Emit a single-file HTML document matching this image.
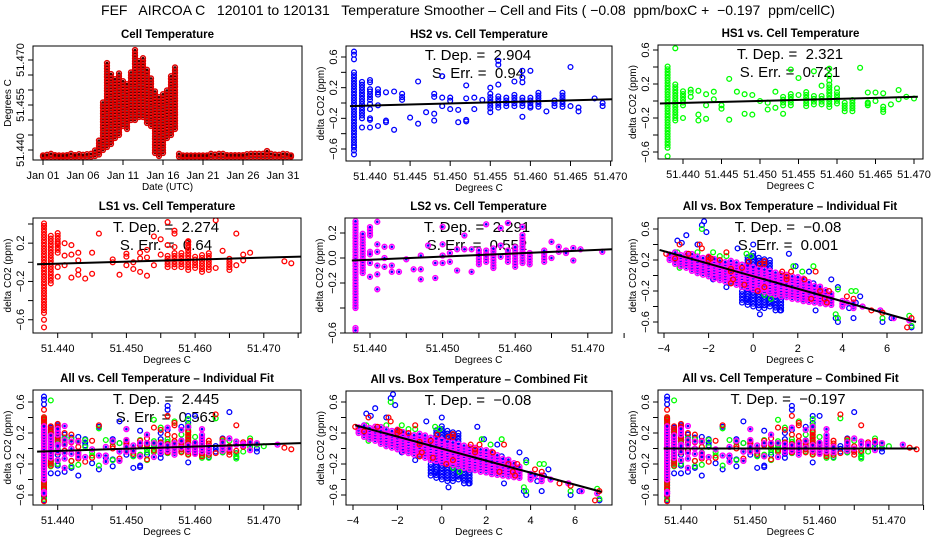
<!DOCTYPE html>
<html><head><meta charset="utf-8"><style>
html,body{margin:0;padding:0;background:#fff;}
svg{display:block;font-family:"Liberation Sans",sans-serif;}
</style></head><body>
<svg id="chart" width="936" height="540" viewBox="0 0 936 540" xmlns="http://www.w3.org/2000/svg">
<rect x="0" y="0" width="936" height="540" fill="#fff"/>
<text x="468" y="15" font-size="14" text-anchor="middle" style="white-space:pre">FEF   AIRCOA C   120101 to 120131   Temperature Smoother – Cell and Fits ( −0.08  ppm/boxC +  −0.197  ppm/cellC)</text>
</svg>
<script>
// ---------- DATA ----------
const cellDays=[1,1.5,2,2.5,3,3.5,4,4.5,5,5.5,6,6.5,7,7.5,8,8.5,9,9.5,10,10.5,11,11.5,12,12.5,13,13.5,14,14.5,15,15.5,16,16.5,17,17.5,18,18.5,19,19.5,20,20.5,21,21.5,22,22.5,23,23.5,24,24.5,25,25.5,26,26.5,27,27.5,28,28.5,29,29.5,30,30.5,31,31.5,32];
const cellLo=[51.4378,51.4378,51.4378,51.4378,51.4378,51.4378,51.4378,51.4378,51.4378,51.4378,51.4378,51.4378,51.4378,51.4380,51.4385,51.4400,51.4410,51.4420,51.4440,51.4450,51.4480,51.4470,51.4500,51.4500,51.4510,51.4510,51.4490,51.4480,51.4390,51.4380,51.4390,51.4440,51.4450,51.4470,51.4378,51.4378,51.4378,51.4378,51.4378,51.4378,51.4378,51.4378,51.4378,51.4378,51.4378,51.4378,51.4378,51.4378,51.4378,51.4378,51.4378,51.4378,51.4378,51.4378,51.4378,51.4378,51.4378,51.4378,51.4378,51.4378,51.4378,51.4378,51.4378];
const cellHi=[51.4382,51.4384,51.4388,51.4383,51.4382,51.4382,51.4383,51.4395,51.4383,51.4386,51.4384,51.4386,51.4388,51.4405,51.4440,51.4560,51.4690,51.4660,51.4640,51.4660,51.4630,51.4620,51.4660,51.4735,51.4700,51.4710,51.4670,51.4640,51.4600,51.4580,51.4590,51.4600,51.4650,51.4680,51.4390,51.4382,51.4382,51.4382,51.4382,51.4382,51.4382,51.4382,51.4392,51.4385,51.4395,51.4388,51.4383,51.4383,51.4383,51.4383,51.4383,51.4386,51.4388,51.4392,51.4395,51.4392,51.4400,51.4390,51.4385,51.4384,51.4393,51.4386,51.4382];

const hs2Cols=[[51.438,-0.55,0.42],[51.439,-0.2,0.3],[51.440,0.04,0.15],[51.444,0.04,0.1],[51.455,-0.07,0.1],[51.456,-0.06,0.1],[51.457,-0.04,0.1],[51.458,-0.04,0.12],[51.459,-0.04,0.1],[51.460,-0.04,0.08],[51.461,-0.05,0.15],[51.463,-0.04,0.05],[51.464,-0.05,0.16]];
const hs2Pts=[[51.438,0.67],[51.438,0.63],[51.438,0.57],[51.438,-0.58],[51.438,-0.62],[51.438,-0.67],[51.439,-0.32],[51.440,0.3],[51.440,0.27],[51.440,0.18],[51.440,-0.01],[51.440,-0.08],[51.440,-0.2],[51.440,-0.22],[51.440,-0.32],[51.441,0.18],[51.441,0.14],[51.441,0.11],[51.441,-0.03],[51.441,-0.3],[51.442,0.14],[51.442,-0.23],[51.442,-0.25],[51.443,0.15],[51.443,-0.35],[51.444,0.12],[51.445,-0.19],[51.446,0.28],[51.446,-0.27],[51.447,-0.12],[51.448,0.12],[51.448,0.08],[51.448,-0.14],[51.448,-0.23],[51.449,0.35],[51.449,0.07],[51.449,-0.04],[51.450,0.07],[51.450,0.03],[51.450,-0.08],[51.451,-0.09],[51.451,-0.25],[51.452,0.23],[51.452,0.06],[51.452,-0.22],[51.452,-0.24],[51.453,0.07],[51.453,-0.08],[51.454,0.04],[51.455,0.2],[51.455,0.12],[51.455,-0.12],[51.456,0.55],[51.456,0.5],[51.456,0.24],[51.458,0.28],[51.459,0.42],[51.459,0.33],[51.459,0.27],[51.459,-0.18],[51.460,0.42],[51.460,-0.06],[51.462,-0.11],[51.465,0.47],[51.465,-0.04],[51.466,-0.06],[51.466,-0.11],[51.468,0.06],[51.469,0.0],[51.469,-0.04]];
const hs1Cols=[[51.438,-0.55,0.42],[51.439,-0.2,0.22],[51.440,-0.05,0.14],[51.441,0.1,0.15],[51.453,-0.05,0.06],[51.454,-0.05,0.1],[51.456,-0.06,0.13],[51.457,-0.04,0.06],[51.458,-0.04,0.06],[51.459,-0.07,0.2],[51.460,-0.03,0.11],[51.461,-0.12,0.0],[51.462,-0.12,0.03],[51.464,-0.05,0.0],[51.466,-0.1,-0.06]];
const hs1Pts=[[51.438,-0.65],[51.439,0.62],[51.439,-0.23],[51.440,-0.2],[51.441,0.05],[51.442,0.12],[51.442,-0.16],[51.442,-0.23],[51.443,0.08],[51.443,-0.05],[51.443,-0.21],[51.444,0.11],[51.444,0.02],[51.445,-0.05],[51.445,-0.09],[51.446,0.26],[51.446,-0.22],[51.447,0.11],[51.448,0.08],[51.448,-0.15],[51.449,0.07],[51.449,-0.16],[51.450,0.0],[51.451,-0.02],[51.451,-0.1],[51.452,0.11],[51.452,-0.08],[51.453,-0.15],[51.454,0.37],[51.455,0.27],[51.455,0.07],[51.457,0.35],[51.458,0.18],[51.459,0.38],[51.459,0.3],[51.459,0.24],[51.460,0.15],[51.463,0.39],[51.464,0.1],[51.464,-0.03],[51.465,0.1],[51.465,0.0],[51.466,0.09],[51.466,-0.13],[51.467,-0.04],[51.468,0.13],[51.468,0.02],[51.469,0.05],[51.470,0.03]];
const ls1Cols=[[51.438,-0.5,0.42],[51.439,-0.22,0.3],[51.440,0.1,0.32],[51.456,-0.05,0.08],[51.457,-0.05,0.1],[51.458,-0.05,0.12],[51.459,-0.08,0.22],[51.460,-0.06,0.06],[51.461,-0.1,0.1],[51.462,-0.08,0.12],[51.465,-0.08,0.05]];
const ls1Pts=[[51.438,0.5],[51.438,0.38],[51.438,-0.53],[51.438,-0.6],[51.438,-0.68],[51.440,0.2],[51.440,-0.05],[51.440,-0.15],[51.441,0.2],[51.441,0.07],[51.441,-0.03],[51.442,0.18],[51.442,0.08],[51.442,-0.16],[51.443,0.1],[51.443,0.02],[51.443,-0.08],[51.443,-0.13],[51.444,-0.17],[51.445,0.1],[51.445,-0.12],[51.446,0.3],[51.448,0.03],[51.448,0.0],[51.449,-0.13],[51.450,0.09],[51.450,0.06],[51.450,-0.03],[51.451,0.0],[51.451,-0.07],[51.452,0.1],[51.452,0.04],[51.452,-0.1],[51.453,0.13],[51.453,0.05],[51.453,-0.14],[51.454,0.27],[51.454,-0.03],[51.455,0.24],[51.455,0.08],[51.456,0.42],[51.456,0.18],[51.457,0.33],[51.457,0.3],[51.457,0.16],[51.459,0.22],[51.463,0.44],[51.463,-0.06],[51.464,0.12],[51.466,0.3],[51.466,-0.03],[51.467,0.08],[51.467,0.02],[51.468,0.1],[51.473,0.01],[51.474,-0.01]];
const ls2Cols=[[51.438,-0.4,0.3],[51.439,-0.12,0.2],[51.440,0.18,0.26],[51.455,-0.05,0.07],[51.456,-0.03,0.07],[51.457,-0.08,0.08],[51.459,-0.03,0.06],[51.460,-0.07,0.1],[51.461,-0.04,0.2],[51.462,-0.05,0.04],[51.464,-0.03,0.08]];
const ls2Pts=[[51.438,-0.56],[51.438,-0.58],[51.440,0.05],[51.440,0.03],[51.440,-0.04],[51.440,-0.15],[51.441,0.29],[51.441,0.11],[51.441,0.05],[51.441,-0.06],[51.441,-0.13],[51.441,-0.25],[51.442,0.09],[51.442,0.0],[51.442,-0.07],[51.443,0.09],[51.443,-0.06],[51.443,-0.11],[51.444,-0.11],[51.445,-0.01],[51.446,-0.09],[51.447,0.02],[51.447,-0.09],[51.447,-0.17],[51.448,0.1],[51.449,-0.04],[51.449,-0.16],[51.450,0.25],[51.450,0.11],[51.450,0.02],[51.450,-0.04],[51.451,0.04],[51.451,-0.03],[51.452,0.07],[51.452,-0.1],[51.453,0.18],[51.453,0.07],[51.454,0.07],[51.454,-0.11],[51.456,0.27],[51.458,0.24],[51.458,0.1],[51.458,0.01],[51.459,0.28],[51.461,0.25],[51.465,0.13],[51.465,0.0],[51.466,0.09],[51.466,0.05],[51.467,0.06],[51.467,0.04],[51.468,0.08],[51.468,-0.02],[51.469,0.07],[51.472,0.05]];

const boxMagCols=[[-3.75,0.2,0.3],[-3.5,0.15,0.3],[-3.25,0.12,0.3],[-3.0,0.1,0.29],[-2.75,0.06,0.28],[-2.5,0.03,0.27],[-2.25,0.01,0.26],[-2.0,-0.01,0.25],[-1.75,-0.04,0.23],[-1.5,-0.06,0.22],[-1.25,-0.08,0.2],[-1.0,-0.1,0.19],[-0.75,-0.12,0.18],[-0.5,-0.15,0.16],[-0.25,-0.16,0.15],[0,-0.18,0.13],[0.25,-0.2,0.12],[0.5,-0.21,0.1],[0.75,-0.23,0.09],[1.0,-0.25,0.07],[1.25,-0.27,0.05],[1.5,-0.28,0.03],[1.75,-0.3,0.0],[2.0,-0.31,-0.02],[2.25,-0.33,-0.04],[2.5,-0.34,-0.07],[2.75,-0.35,-0.1],[3.0,-0.36,-0.14],[3.25,-0.37,-0.18],[3.5,-0.38,-0.22],[4.0,-0.4,-0.3],[4.5,-0.42,-0.34]];
const boxBlueCols=[[-0.5,-0.35,-0.2],[-0.25,-0.38,0.25],[0,-0.4,0.3],[0.25,-0.42,-0.2],[0.5,-0.42,-0.22],[0.75,-0.4,-0.24],[1.0,-0.45,-0.26],[1.25,-0.45,-0.28],[0.25,0.12,0.25],[0.5,0.1,0.22],[0.75,0.09,0.2]];
const boxRedCols=[[-2.0,0.2,0.25],[-1.0,0.05,0.12],[0.5,0.15,0.2],[1.5,-0.05,0.02]];
const boxBluePts=[[-2.2,0.7],[-2.3,0.65],[-2.1,0.56],[-3,0.52],[-3.4,0.45],[-3.2,0.42],[-2.5,0.4],[-3.5,0.3],[-1.8,0.2],[-1.2,-0.15],[-1.8,-0.05],[-0.7,0.35],[0,0.4],[1.6,0.28],[1.9,0.12],[2.5,0.05],[2.7,-0.1],[3.5,-0.05],[3.8,-0.15],[2.8,-0.45],[3.7,-0.55],[3.8,-0.6],[4.5,-0.55],[4.8,-0.27],[4.3,-0.42],[5.8,-0.6],[6.2,-0.55],[7.1,-0.67],[1.2,-0.45],[0.3,-0.5],[1,-0.38],[-0.3,-0.3],[0.7,-0.35],[2.2,-0.3],[3,-0.25],[4.6,-0.35]];
const boxGreenPts=[[-2.3,0.6],[-3.4,0.3],[-3.3,0.1],[-2.8,0.22],[-2.5,0.3],[-2.2,0.18],[-1.8,0.3],[-1.5,0.25],[-1.2,0.25],[-2.1,0.05],[-1,-0.08],[-0.3,0.28],[-0.1,0.25],[0.5,-0.25],[0.8,-0.3],[1.2,-0.25],[1.8,0.12],[2.2,0.05],[2.7,0.12],[2.5,-0.25],[3.7,-0.5],[3.8,-0.55],[3.8,-0.18],[4.4,-0.2],[4.6,-0.2],[5.8,-0.55],[7.0,-0.52],[7.1,-0.65],[3.5,-0.3]];
const boxRedPts=[[-3.3,0.4],[-2.4,0.4],[-2.3,0.35],[-3.9,0.28],[-3.5,0.22],[-2.9,0.28],[-1.5,0.2],[-1.9,0.22],[-1.2,0.3],[-0.5,0.1],[-0.2,0.18],[0.3,0.15],[-1,-0.1],[-0.9,-0.05],[-0.4,-0.12],[0.2,-0.2],[0.5,-0.15],[1.3,0.05],[1.7,0.05],[2.3,-0.05],[2.8,0.05],[3.0,-0.2],[3.2,-0.3],[3.3,-0.35],[3.4,-0.2],[4.2,-0.27],[4.5,-0.3],[5.3,-0.45],[5.8,-0.48],[6.9,-0.67],[7.1,-0.55],[2.6,-0.3]];
const boxMagPts=[[4.9,-0.4],[5.7,-0.45],[6.3,-0.55],[7.0,-0.58],[4.2,-0.35]];

const fitHS2X=[51.4375,51.4705], fitHS2Y=[-0.04,0.05];
const fitHS1X=[51.437,51.4705], fitHS1Y=[-0.03,0.05];
const fitLS1X=[51.437,51.4755], fitLS1Y=[-0.02,0.06];
const fitLS2X=[51.4375,51.4735], fitLS2Y=[-0.02,0.07];
const fitBoxIndX=[-4.2,7.3], fitBoxIndY=[0.33,-0.6];
const fitAllIndX=[51.437,51.4755], fitAllIndY=[-0.04,0.07];
const fitBoxCombX=[-3.9,7.2], fitBoxCombY=[0.3,-0.56];
const fitAllCombX=[51.4375,51.474], fitAllCombY=[0.0,0.0];

const dayTicks=[1,6,11,16,21,26,31];
const dayLabels=['Jan 01','Jan 06','Jan 11','Jan 16','Jan 21','Jan 26','Jan 31'];
const cellTempTicks=[51.440,51.445,51.450,51.455,51.460,51.465,51.470];
const cellTempLabelVals=[51.470,51.455,51.440];
const cellTempLabels=['51.470','51.455','51.440'];
const tempTicks5=[51.440,51.445,51.450,51.455,51.460,51.465,51.470];
const tempLabels5=['51.440','51.445','51.450','51.455','51.460','51.465','51.470'];
const tempTicks10=[51.440,51.445,51.450,51.455,51.460,51.465,51.470,51.475];
const tempLabels10=['51.440','','51.450','','51.460','','51.470',''];
const boxTicks=[-4,-2,0,2,4,6];
const boxLabels=['−4','−2','0','2','4','6'];
const co2Ticks=[-0.6,-0.4,-0.2,0,0.2,0.4,0.6];
const co2Labels=['−0.6','','−0.2','','0.2','','0.6'];
const ls1Ticks=[-0.6,-0.4,-0.2,0,0.2,0.4];
const ls1Labels=['−0.6','','−0.2','','0.2',''];
const ls2Ticks=[-0.6,-0.4,-0.2,0,0.2];
const ls2Labels=['−0.6','','−0.2','0.0','0.2'];

// ---------- DRAWING ----------
const NS='http://www.w3.org/2000/svg';
const svg=document.getElementById('chart');
function mk(tag,parent){const e=document.createElementNS(NS,tag);parent.appendChild(e);return e;}
function lin(v0,p0,v1,p1){return v=>p0+(v-v0)*(p1-p0)/(v1-v0);}
const COL={blue:'#0000ff',green:'#00ff00',red:'#ff0000',mag:'#ff00ff'};
let clipId=0;

function point(g,x,y,color,dot){
  const c=mk('circle',g);
  
  
  c.setAttribute('cx',x.toFixed(1));c.setAttribute('cy',y.toFixed(1));c.setAttribute('r','2.4');
  c.setAttribute('fill','none');c.setAttribute('stroke',color);c.setAttribute('stroke-width',dot?'1.5':'1.3');
  if(dot){
    const d=mk('circle',g);
    
    
    d.setAttribute('cx',x.toFixed(1));d.setAttribute('cy',y.toFixed(1));d.setAttribute('r','1.3');d.setAttribute('fill',dot);
  }
}
function column(g,sx,sy,x,lo,hi,color,dot){
  const px=sx(x);const y0=sy(lo),y1=sy(hi);
  for(let y=y0;y>=y1-0.01;y-=2.8){point(g,px,y,color,dot);}
  if(y0-y1<2.8)point(g,px,y1,color,dot);
}
function txt(g,x,y,s,size,anchor,rot,bold){
  const t=mk('text',g);
  t.setAttribute('x',x);t.setAttribute('y',y);t.setAttribute('font-size',size);
  t.setAttribute('text-anchor',anchor||'middle');
  if(bold)t.setAttribute('font-weight','bold');
  if(rot)t.setAttribute('transform','rotate(-90 '+x+' '+y+')');
  t.setAttribute('style','white-space:pre');
  t.textContent=s;return t;
}
function line(g,x1,y1,x2,y2,w){
  const l=mk('line',g);
  l.setAttribute('x1',x1);l.setAttribute('y1',y1);l.setAttribute('x2',x2);l.setAttribute('y2',y2);
  l.setAttribute('stroke','#000');l.setAttribute('stroke-width',w||1);return l;
}

function panel(p){
  const g=mk('g',svg);
  
  
  const [L,T,R,B]=p.box;
  const cx=(L+R)/2;
  const tt=txt(g,cx,T-8,p.title,11.5,'middle',false,true);
  
  
  p.notes.forEach((n,i)=>{
    const a=txt(g,p.noteX,T+14+i*18,n,15,'middle');
    
    
  });
  const id='clip'+(clipId++);
  const cp=mk('clipPath',g);cp.setAttribute('id',id);
  const cr=mk('rect',cp);cr.setAttribute('x',L);cr.setAttribute('y',T);cr.setAttribute('width',R-L);cr.setAttribute('height',B-T);
  const dg=mk('g',g);
  
  
  dg.setAttribute('clip-path','url(#'+id+')');
  p.series.forEach(s=>{
    (s.cols||[]).forEach(c=>column(dg,p.sx,p.sy,c[0],c[1],c[2],s.color,s.dot));
    (s.pts||[]).forEach(q=>point(dg,p.sx(q[0]),p.sy(q[1]),s.color,s.dot));
  });
  if(p.fitX){
    const f=line(dg,p.sx(p.fitX[0]),p.sy(p.fitY[0]),p.sx(p.fitX[1]),p.sy(p.fitY[1]),2);
    
    
  }
  const bx=mk('rect',g);
  
  
  bx.setAttribute('x',L);bx.setAttribute('y',T);bx.setAttribute('width',R-L);bx.setAttribute('height',B-T);
  bx.setAttribute('fill','none');bx.setAttribute('stroke','#000');bx.setAttribute('stroke-width','1');
  p.xt.forEach((v,i)=>{
    const x=p.sx(v);
    const tk=line(g,x,B,x,B+5,1);
    
    
    if(p.xl[i]){
      const lb=txt(g,x,B+19,p.xl[i],11,'middle');
      
      
    }
  });
  const xa=txt(g,cx,B+30,p.xtitle,10,'middle');
  
  
  p.yt.forEach(v=>{
    const y=p.sy(v);
    const tk=line(g,L-5,y,L,y,1);
    
    
  });
  p.ylv.forEach((v,i)=>{
    if(!p.yl[i])return;
    const lb=txt(g,L-9,p.sy(v),p.yl[i],11,'middle',true);
    
    
  });
  const ya=txt(g,L-22,(T+B)/2,p.ytitle,10,'middle',true);
  
  
}

const p1sx=lin(1,43,31,283), p1sy=lin(51.44,150,51.445,135);
const cellCols=cellDays.map((d,i)=>[d,cellLo[i],cellHi[i]]);
panel({name:'cell-temperature-panel',box:[33,46,302,160],title:'Cell Temperature',notes:[],noteX:0,
  sx:p1sx,sy:p1sy,series:[{cols:cellCols,color:'#e00000',dot:'#400000'}],
  xt:dayTicks,xl:dayLabels,xtitle:'Date (UTC)',yt:cellTempTicks,ylv:cellTempLabelVals,yl:cellTempLabels,ytitle:'Degrees C'});

const sc2x=lin(51.44,370,51.445,410.1), sc2y=lin(0,103,0.6,57);
panel({name:'hs2-vs-cell-temperature-panel',box:[346,46,612,161],title:'HS2 vs. Cell Temperature',notes:['T. Dep. =  2.904','S. Err. =  0.94'],noteX:478,
  sx:sc2x,sy:sc2y,series:[{cols:hs2Cols,pts:hs2Pts,color:COL.blue}],fitX:fitHS2X,fitY:fitHS2Y,
  xt:tempTicks5,xl:tempLabels5,xtitle:'Degrees C',yt:co2Ticks,ylv:co2Ticks,yl:co2Labels,ytitle:'delta CO2 (ppm)'});

const sc3x=lin(51.44,683,51.445,721.5), sc3y=lin(0,101,0.6,50);
panel({name:'hs1-vs-cell-temperature-panel',box:[658,45,923,159],title:'HS1 vs. Cell Temperature',notes:['T. Dep. =  2.321','S. Err. =  0.721'],noteX:790,
  sx:sc3x,sy:sc3y,series:[{cols:hs1Cols,pts:hs1Pts,color:COL.green}],fitX:fitHS1X,fitY:fitHS1Y,
  xt:tempTicks5,xl:tempLabels5,xtitle:'Degrees C',yt:co2Ticks,ylv:co2Ticks,yl:co2Labels,ytitle:'delta CO2 (ppm)'});

const sc4x=lin(51.44,57.7,51.45,126.4), sc4y=lin(0,262.3,0.4,224);
panel({name:'ls1-vs-cell-temperature-panel',box:[33,218,301,333],title:'LS1 vs. Cell Temperature',notes:['T. Dep. =  2.274','S. Err. =  0.64'],noteX:166,
  sx:sc4x,sy:sc4y,series:[{cols:ls1Cols,pts:ls1Pts,color:COL.red}],fitX:fitLS1X,fitY:fitLS1Y,
  xt:tempTicks10,xl:tempLabels10,xtitle:'Degrees C',yt:ls1Ticks,ylv:ls1Ticks,yl:ls1Labels,ytitle:'delta CO2 (ppm)'});

const sc5x=lin(51.44,370,51.45,442.6), sc5y=lin(0,258,0.2,233);
panel({name:'ls2-vs-cell-temperature-panel',box:[345,218,612,333],title:'LS2 vs. Cell Temperature',notes:['T. Dep. =  2.291','S. Err. =  0.552'],noteX:477,
  sx:sc5x,sy:sc5y,series:[{cols:ls2Cols,pts:ls2Pts,color:COL.mag,dot:COL.blue}],fitX:fitLS2X,fitY:fitLS2Y,
  xt:tempTicks10,xl:tempLabels10,xtitle:'Degrees C',yt:ls2Ticks,ylv:ls2Ticks,yl:ls2Labels,ytitle:'delta CO2 (ppm)'});

const boxSeries=[{cols:boxBlueCols,pts:boxBluePts,color:COL.blue},{pts:boxGreenPts,color:COL.green},{cols:boxMagCols,pts:boxMagPts,color:COL.mag,dot:COL.blue},{cols:boxRedCols,pts:boxRedPts,color:COL.red}];
const sc6x=lin(-4,664,6,887), sc6y=lin(0,275.5,0.6,229);
panel({name:'all-vs-box-temperature-individual-panel',box:[658,218,922,333],title:'All vs. Box Temperature – Individual Fit',notes:['T. Dep. =  −0.08','S. Err. =  0.001'],noteX:788,
  sx:sc6x,sy:sc6y,series:boxSeries,fitX:fitBoxIndX,fitY:fitBoxIndY,
  xt:boxTicks,xl:boxLabels,xtitle:'Degrees C',yt:co2Ticks,ylv:co2Ticks,yl:co2Labels,ytitle:'delta CO2 (ppm)'});

const cellSeries=[{cols:hs2Cols,pts:hs2Pts,color:COL.blue},{cols:hs1Cols,pts:hs1Pts,color:COL.green},{cols:ls1Cols,pts:ls1Pts,color:COL.red},{cols:ls2Cols,pts:ls2Pts,color:COL.mag,dot:COL.blue}];
const sc7y=lin(0,448.5,0.6,402);
panel({name:'all-vs-cell-temperature-individual-panel',box:[33,390,301,505],title:'All vs. Cell Temperature – Individual Fit',notes:['T. Dep. =  2.445','S. Err. =  0.563'],noteX:166,
  sx:sc4x,sy:sc7y,series:cellSeries,fitX:fitAllIndX,fitY:fitAllIndY,
  xt:tempTicks10,xl:tempLabels10,xtitle:'Degrees C',yt:co2Ticks,ylv:co2Ticks,yl:co2Labels,ytitle:'delta CO2 (ppm)'});

const sc8x=lin(-4,353,6,575);
panel({name:'all-vs-box-temperature-combined-panel',box:[346,391,612,505],title:'All vs. Box Temperature – Combined Fit',notes:['T. Dep. =  −0.08'],noteX:478,
  sx:sc8x,sy:sc7y,series:boxSeries,fitX:fitBoxCombX,fitY:fitBoxCombY,
  xt:boxTicks,xl:boxLabels,xtitle:'Degrees C',yt:co2Ticks,ylv:co2Ticks,yl:co2Labels,ytitle:'delta CO2 (ppm)'});

const sc9x=lin(51.44,681,51.45,750.3);
panel({name:'all-vs-cell-temperature-combined-panel',box:[658,390,923,505],title:'All vs. Cell Temperature – Combined Fit',notes:['T. Dep. =  −0.197'],noteX:788,
  sx:sc9x,sy:sc7y,series:cellSeries,fitX:fitAllCombX,fitY:fitAllCombY,
  xt:tempTicks10,xl:tempLabels10,xtitle:'Degrees C',yt:co2Ticks,ylv:co2Ticks,yl:co2Labels,ytitle:'delta CO2 (ppm)'});
</script>
</body></html>
